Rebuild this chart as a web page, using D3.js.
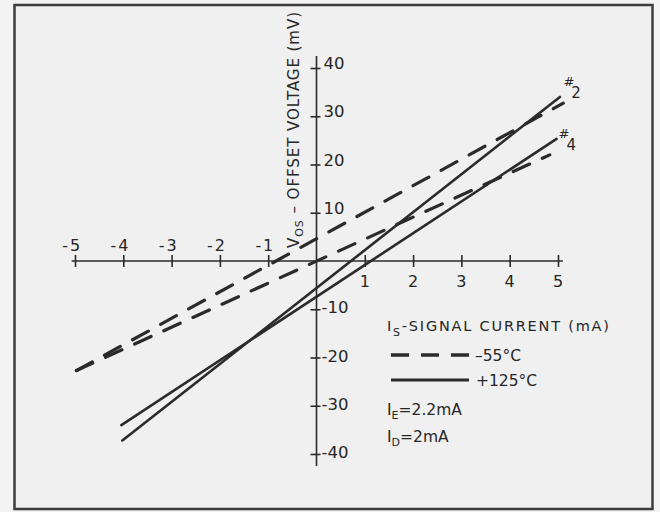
<!DOCTYPE html>
<html>
<head>
<meta charset="utf-8">
<script src="https://cdn.jsdelivr.net/npm/d3@7"></script>
<style>
  html, body { margin: 0; padding: 0; background: #f1f1f1; }
  svg { display: block; }
  text { font-family: "DejaVu Sans", sans-serif; fill: #262626; }
</style>
</head>
<body>
<svg id="chart" width="660" height="512"></svg>
<script>
// ---- data ----
const xTickValues = [-5, -4, -3, -2, -1, 1, 2, 3, 4, 5];
const yTickValues = [-40, -30, -20, -10, 10, 20, 30, 40];
const xTickLabels = ["-5", "-4", "-3", "-2", "-1", "1", "2", "3", "4", "5"];
const yTickLabels = ["-40", "-30", "-20", "-10", "10", "20", "30", "40"];

// Signal current (mA) at the two ends of each straight line, and offset voltage (mV)
const dashed2X = [-4.97, 5.11];
const dashed2Y = [-22.7, 32.7];
const dashed4X = [-4.97, 4.83];
const dashed4Y = [-22.7, 22.0];
const solid2X  = [-4.02, 5.04];
const solid2Y  = [-37.2, 34.0];
const solid4X  = [-4.04, 4.97];
const solid4Y  = [-34.0, 25.3];

const seriesNames = ["#2 -55°C", "#4 -55°C", "#2 +125°C", "#4 +125°C"];
const seriesTemps = ["-55°C", "-55°C", "+125°C", "+125°C"];

const curveLabels = [["#", "2"], ["#", "4"]];
const curveLabelAt = [[5.05, 33.8], [4.95, 23.0]];

const legendTitle = "SIGNAL   CURRENT (mA)";
const legendEntries = ["–55°C", "+125°C"];
const noteIE = "=2.2mA";
const noteID = "=2mA";

// ---- build ----
const series = [
  {name: seriesNames[0], temp: seriesTemps[0], pts: dashed2X.map((x, i) => [x, dashed2Y[i]])},
  {name: seriesNames[1], temp: seriesTemps[1], pts: dashed4X.map((x, i) => [x, dashed4Y[i]])},
  {name: seriesNames[2], temp: seriesTemps[2], pts: solid2X.map((x, i) => [x, solid2Y[i]])},
  {name: seriesNames[3], temp: seriesTemps[3], pts: solid4X.map((x, i) => [x, solid4Y[i]])}
];

const svg = d3.select("#chart");
const ink = "#2b2b2b";

// frame
svg.append("rect").attr("x", 0).attr("y", 0).attr("width", 660).attr("height", 512).attr("fill", "#f3f3f3");
svg.append("rect").attr("x", 14.5).attr("y", 5).attr("width", 638).attr("height", 504)
  .attr("fill", "#f0f0f0").attr("stroke", "#3c3c3c").attr("stroke-width", 2.5);

const x = d3.scaleLinear().domain([-5, 5]).range([75, 558]);
const y = d3.scaleLinear().domain([-40, 40]).range([454, 68]);

// x axis
const gx = svg.append("g").attr("transform", `translate(0,${y(0)})`)
  .call(d3.axisBottom(x).tickValues(xTickValues).tickSize(6).tickFormat(""));
gx.select(".domain").remove();
gx.selectAll(".tick line").attr("y1", -6).attr("y2", 6).attr("stroke", ink).attr("stroke-width", 1.6);
gx.append("line").attr("x1", x(-5.07)).attr("x2", x(5.1)).attr("y1", 0).attr("y2", 0)
  .attr("stroke", ink).attr("stroke-width", 1.6);

// y axis
const gy = svg.append("g").attr("transform", `translate(${x(0)},0)`)
  .call(d3.axisLeft(y).tickValues(yTickValues).tickSize(6).tickFormat(""));
gy.select(".domain").remove();
gy.selectAll(".tick line").attr("x1", -6).attr("x2", 4).attr("stroke", ink).attr("stroke-width", 1.6);
gy.append("line").attr("x1", 0).attr("x2", 0).attr("y1", y(42.5)).attr("y2", y(-42.5))
  .attr("stroke", ink).attr("stroke-width", 1.6);

// x tick labels: digit centred on the tick, minus sign set off to the left
const xl = svg.append("g").selectAll("g").data(xTickValues).join("g");
xl.append("text")
  .attr("x", d => x(d))
  .attr("y", d => d < 0 ? y(0) - 10 : y(0) + 26)
  .attr("text-anchor", "middle")
  .attr("font-size", 16)
  .text((d, i) => xTickLabels[i].replace("-", ""));
xl.filter(d => d < 0).append("text")
  .attr("x", d => x(d) - 7)
  .attr("y", y(0) - 10)
  .attr("text-anchor", "end")
  .attr("font-size", 16)
  .text("-");

// y tick labels
svg.append("g").selectAll("text").data(yTickValues).join("text")
  .attr("x", d => d < 0 ? x(0) + 5 : x(0) + 7)
  .attr("y", d => d > 0 ? y(d) + 1 : y(d) + 4)
  .attr("text-anchor", "start")
  .attr("font-size", 16.5)
  .text((d, i) => yTickLabels[i]);

// y axis title (rotated)
const yt = svg.append("text")
  .attr("transform", `translate(299,248) rotate(-90)`)
  .attr("font-size", 15)
  .attr("text-anchor", "start")
  .attr("textLength", 236)
  .attr("lengthAdjust", "spacing");
yt.append("tspan").text("V");
yt.append("tspan").attr("font-size", 11).attr("dy", 4).text("OS");
yt.append("tspan").attr("dy", -4).text(" – OFFSET  VOLTAGE (mV)");

// lines
const line = d3.line().x(d => x(d[0])).y(d => y(d[1]));
svg.append("g").selectAll("path").data(series).join("path")
  .attr("d", d => line(d.pts))
  .attr("fill", "none")
  .attr("stroke", ink)
  .attr("stroke-linecap", "round")
  .attr("stroke-width", d => d.temp === "-55°C" ? 3.2 : 2.6)
  .attr("stroke-dasharray", d => d.temp === "-55°C" ? "18,14" : null);

// curve labels #2, #4 (one text each: small "#" above, number below-right)
curveLabels.forEach((lab, i) => {
  const px = x(curveLabelAt[i][0]), py = y(curveLabelAt[i][1]);
  const t = svg.append("text").attr("x", px + 3).attr("y", py - 12).attr("font-size", 13);
  t.append("tspan").text(lab[0]);
  t.append("tspan").attr("dx", -3).attr("dy", 12).attr("font-size", 15).text(lab[1]);
});

// legend
const lg = svg.append("g");
const t0 = lg.append("text").attr("x", 387).attr("y", 331).attr("font-size", 14.5)
  .attr("textLength", 222).attr("lengthAdjust", "spacing");
t0.append("tspan").text("I");
t0.append("tspan").attr("font-size", 11).attr("dy", 5).text("S");
t0.append("tspan").attr("dy", -5).text("-" + legendTitle);

lg.append("line").attr("x1", 391).attr("x2", 469).attr("y1", 355).attr("y2", 355)
  .attr("stroke", ink).attr("stroke-width", 3.4).attr("stroke-dasharray", "18,12");
lg.append("text").attr("x", 475).attr("y", 361).attr("font-size", 15.5).text(legendEntries[0]);
lg.append("line").attr("x1", 391).attr("x2", 469).attr("y1", 380).attr("y2", 380)
  .attr("stroke", ink).attr("stroke-width", 3);
lg.append("text").attr("x", 476).attr("y", 386).attr("font-size", 15.5).text(legendEntries[1]);

const t1 = lg.append("text").attr("x", 387).attr("y", 415).attr("font-size", 15.5);
t1.append("tspan").text("I");
t1.append("tspan").attr("font-size", 11).attr("dy", 4).text("E");
t1.append("tspan").attr("dy", -4).text(noteIE);
const t2 = lg.append("text").attr("x", 387).attr("y", 442).attr("font-size", 15.5);
t2.append("tspan").text("I");
t2.append("tspan").attr("font-size", 11).attr("dy", 4).text("D");
t2.append("tspan").attr("dy", -4).text(noteID);
</script>
</body>
</html>
